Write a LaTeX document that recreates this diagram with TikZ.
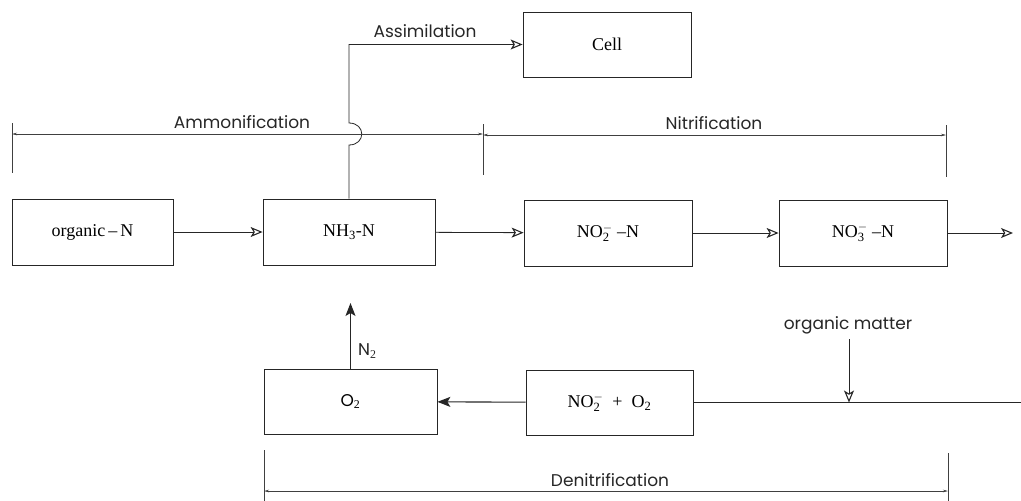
\documentclass[tikz,border=0pt]{standalone}
\usepackage{fontspec}
\setmainfont{Liberation Serif}
\newfontfamily\gfont{Poppins}
\usetikzlibrary{arrows.meta}
\tikzset{
  box/.style={draw=black!85, line width=0.8pt, minimum width=#1, minimum height=66pt, inner sep=0pt, font=\fontsize{18}{20}\selectfont},
  flow/.style={draw=black!85, line width=0.8pt, -{Stealth[open,length=12pt,width=10pt,inset=3pt,line width=1.1pt]}},
  fflow/.style={draw=black!85, line width=1.1pt, -{Stealth[length=13pt,width=10pt,inset=3pt]}},
  dim/.style={draw=black!75, line width=0.6pt, {Stealth[length=5pt,width=2.5pt]}-{Stealth[length=5pt,width=2.5pt]}},
  tick/.style={draw=black!75, line width=0.7pt},
  lab/.style={font=\gfont\fontsize{17}{19}\selectfont, text=black!85, inner sep=0pt},
}
\begin{document}
\begin{tikzpicture}[x=1pt,y=-1pt]
\useasboundingbox (0,0) rectangle (1021,501);
% boxes
\node[box=161pt] (org) at (92.5,232) {organic\,--\,N};
\node[box=172pt] (nh3) at (349,232) {NH$_{\mathrm{3}}$-N};
\node[box=168pt, minimum height=65pt] (cell) at (607,44.5) {Cell};
\node[box=168pt] (no2) at (608,233) {NO$^{-}_{\mathrm{2}}$\ --N};
\node[box=168pt] (no3) at (863,233) {NO$^{-}_{\mathrm{3}}$\ --N};
\node[box=173pt, minimum height=65pt, font=\gfont\fontsize{17}{19}\selectfont] (o2) at (350.5,401.5) {O$_{\mathrm{2}}$};
\node[box=167pt, minimum height=65pt] (no2o2) at (609.5,402.5) {NO$^{-}_{\mathrm{2}}$\ \ +\ \ O$_{\mathrm{2}}$};
% coordinates
\coordinate (j1) at (349,145);
\coordinate (j2) at (349,123);
\coordinate (ac) at (349,44.5);
\coordinate (out) at (1013,233);
\coordinate (rin) at (1021,402.5);
\coordinate (om) at (849,339);
\coordinate (n2top) at (350.5,303);
% main flow
\draw[flow] (org) -- (nh3);
\draw[flow] (nh3) -- (no2);
\draw[flow] (no2) -- (no3);
\draw[flow] (no3) -- (out);
\draw[flow] (nh3.north) -- (j1) .. controls (366,145) and (366,123) .. (j2) -- (ac) -- (cell.west);
% bottom
\draw[draw=black!85, line width=1.3pt] (rin) -- (no2o2.east);
\draw[flow] (om) -- (om |- no2o2.east);
\draw[fflow] (no2o2) -- (o2);
\draw[fflow] (o2.north) -- (n2top);
% dimension lines
\coordinate (a1) at (12,134); \coordinate (a2) at (483,134);
\coordinate (b1) at (483,135); \coordinate (b2) at (946,135);
\coordinate (d1) at (264,491); \coordinate (d2) at (948,491);
\draw[dim] (a1) -- (a2);
\draw[dim] (b1) -- (b2);
\draw[dim] (d1) -- (d2);
\draw[tick] (12,123) -- (12,173);
\draw[tick] (483,124) -- (483,175);
\draw[tick] (946,125) -- (946,177);
\draw[tick] (264,450) -- (264,501);
\draw[tick] (948,453) -- (948,501);
% labels
\node[lab] (lass) at (425,31) {Assimilation};
\node[lab] (lamm) at (242,122) {Ammonification};
\node[lab] (lnit) at (714,123) {Nitrification};
\node[lab] (lden) at (610,480) {Denitrification};
\node[lab] (lom) at (848,325) {organic matter};
\node[lab, anchor=west] (ln2) at (358,351) {N$_{\mathrm{2}}$};
\end{tikzpicture}
\end{document}
